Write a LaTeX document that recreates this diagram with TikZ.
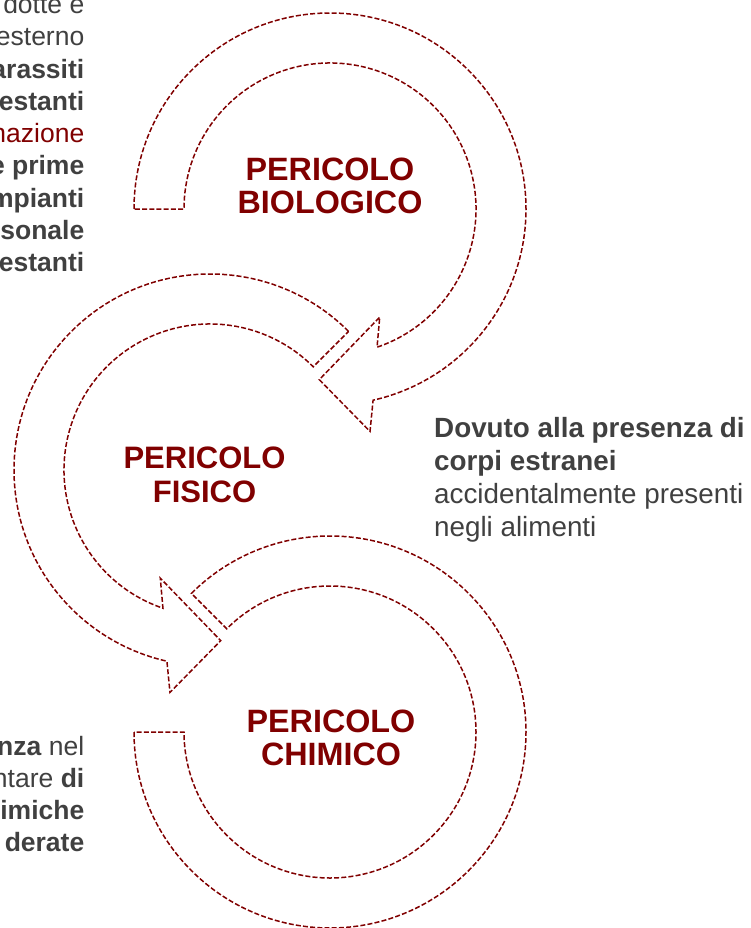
\documentclass[tikz,border=0pt]{standalone}
\usepackage{fontspec}
\setmainfont{Liberation Sans}
\definecolor{hz}{RGB}{128,0,0}
\definecolor{tx}{RGB}{64,64,64}
\tikzset{
  band/.style={draw=hz, line width=1.5pt, dash pattern=on 5pt off 2.2pt, line join=miter},
  side/.style={inner sep=0, text=tx, font=\fontsize{26.5}{30}\selectfont, anchor=base east},
  note/.style={inner sep=0, text=tx, font=\fontsize{27.8}{33}\selectfont, anchor=base west},
  title/.style={inner sep=0, text=hz, font=\bfseries\fontsize{32.3}{33}\selectfont, anchor=base},
  titlesm/.style={title, font=\bfseries\fontsize{31}{33}\selectfont},
}
\begin{document}
\begin{tikzpicture}[x=1pt, y=-1pt]
\useasboundingbox (0,0) rectangle (751,928);
\clip (0,0) rectangle (751,928);
\coordinate (bio) at (330,209);
\coordinate (fis) at (210,470);
\coordinate (chi) at (330,732);

% biological arrow
\draw[band, shift={(bio)}] (180:196) arc[start angle=180, end angle=437.3, radius=196]
  -- (79.8:226) -- (93.6:171) -- (65.3:119) -- (71.2:146)
  arc[start angle=71.2, end angle=-180, radius=146] -- cycle;
% physical arrow
\draw[band, shift={(fis)}] (-45:196) arc[start angle=-45, end angle=-257.3, radius=196]
  -- (100.2:226) -- (86.4:171) -- (114.7:119) -- (108.8:146)
  arc[start angle=108.8, end angle=315, radius=146] -- cycle;
% chemical arrow
\draw[band, shift={(chi)}] (180:196) arc[start angle=180, end angle=-135, radius=196]
  -- (-135:146) arc[start angle=-135, end angle=180, radius=146] -- cycle;

% titles
\node[title] (b1) at (330,180) {PERICOLO};
\node[title] (b2) at (330,213.3) {BIOLOGICO};
\node[titlesm] (f1) at (204.5,468.3) {PERICOLO};
\node[titlesm] (f2) at (204.5,502.7) {FISICO};
\node[title] (c1) at (331,732) {PERICOLO};
\node[title] (c2) at (331,765.3) {CHIMICO};

% left top text
\node[side] (l1) at (84.5,13.5) {dotte e};
\node[side] (l2) at (84.5,45.8) {esterno};
\node[side] (l3) at (84.5,78.1) {\textbf{arassiti}};
\node[side] (l4) at (84.5,110.4) {\textbf{estanti}};
\node[side, text=hz] (l5) at (84.5,142.7) {nazione};
\node[side] (l6) at (84.5,175) {\textbf{e prime}};
\node[side] (l7) at (84.5,207.3) {\textbf{mpianti}};
\node[side] (l8) at (84.5,239.6) {\textbf{sonale}};
\node[side] (l9) at (84.5,271.9) {\textbf{estanti}};

% right text
\node[note] (r1) at (434,437) {\textbf{Dovuto alla presenza di}};
\node[note] (r2) at (434,470.2) {\textbf{corpi estranei}};
\node[note] (r3) at (434,503.4) {accidentalmente presenti};
\node[note] (r4) at (434,536.6) {negli alimenti};

% bottom left text
\node[side] (d1) at (84.5,755) {\textbf{nza} nel};
\node[side] (d2) at (84.5,787.3) {ntare \textbf{di}};
\node[side] (d3) at (84.5,819.6) {\textbf{imiche}};
\node[side] (d4) at (84.5,851.9) {\textbf{derate}};
\end{tikzpicture}
\end{document}
